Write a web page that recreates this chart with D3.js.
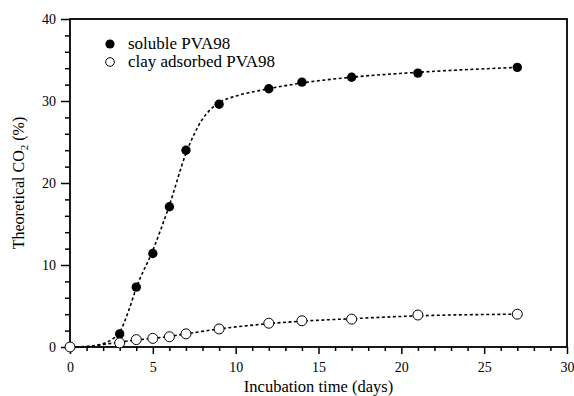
<!DOCTYPE html>
<html>
<head>
<meta charset="utf-8">
<script src="https://cdn.jsdelivr.net/npm/d3@7"></script>
<style>
  body { margin: 0; background: #fff; }
  svg { display: block; }
</style>
</head>
<body>
<svg id="chart" width="574" height="396"></svg>
<script>
// Measured points: incubation day and theoretical CO2 (%)
const days = [0, 3, 4, 5, 6, 7, 9, 12, 14, 17, 21, 27];
const soluble = [0, 1.6, 7.3, 11.4, 17.1, 24.0, 29.6, 31.5, 32.3, 32.9, 33.4, 34.1];
const clayAdsorbed = [0, 0.5, 0.9, 1.05, 1.25, 1.6, 2.2, 2.9, 3.2, 3.4, 3.9, 4.0];

// Fitted model curves
const fitDays = [0, 1, 2, 2.5, 3, 3.5, 4, 5, 6, 7, 8, 8.5, 9, 10, 11, 12, 14, 17, 21, 27];
const fitSoluble = [0, 0.05, 0.4, 0.9, 1.8, 4.2, 7.2, 11.8, 17.3, 23.6, 27.8, 29.0, 29.8, 30.6, 31.1, 31.5, 32.2, 32.9, 33.5, 34.1];
const fitClayDays = [0, 1, 2, 3, 4, 5, 6, 7, 9, 12, 14, 17, 21, 27];
const fitClay = [0, 0.07, 0.3, 0.6, 0.85, 1.05, 1.3, 1.6, 2.2, 2.85, 3.15, 3.45, 3.8, 4.0];

const xMajor = [0, 5, 10, 15, 20, 25, 30];
const yMajor = [0, 10, 20, 30, 40];
const seriesNames = ["soluble PVA98", "clay adsorbed PVA98"];

const SERIF = "'Liberation Serif'";

const svg = d3.select("#chart");
const m = { left: 70, right: 7, top: 19, bottom: 49 };
const W = 574, H = 396;

const x = d3.scaleLinear().domain([0, 30]).range([m.left, W - m.right]);
const y = d3.scaleLinear().domain([0, 40]).range([H - m.bottom, m.top]);

// minor ticks
const xMinor = d3.range(0, 31, 1).filter(v => v % 5 !== 0);
const yMinor = d3.range(0, 41, 2).filter(v => v % 10 !== 0);

const gx = svg.append("g").attr("transform", `translate(0,${y(0)})`);
gx.call(d3.axisBottom(x).tickValues(xMinor).tickSize(4).tickSizeOuter(0).tickFormat(""));
gx.call(g => g.select(".domain").remove());
const gxM = svg.append("g").attr("transform", `translate(0,${y(0)})`)
  .call(d3.axisBottom(x).tickValues(xMajor).tickSize(7).tickSizeOuter(0).tickPadding(8));
gxM.select(".domain").remove();

const gy = svg.append("g").attr("transform", `translate(${x(0)},0)`);
gy.call(d3.axisLeft(y).tickValues(yMinor).tickSize(5).tickSizeOuter(0).tickFormat(""));
gy.call(g => g.select(".domain").remove());
const gyM = svg.append("g").attr("transform", `translate(${x(0)},0)`)
  .call(d3.axisLeft(y).tickValues(yMajor).tickSize(9).tickSizeOuter(0).tickPadding(5));
gyM.select(".domain").remove();

svg.selectAll(".tick line").attr("stroke", "#000").attr("stroke-width", 1.5);
svg.selectAll(".tick text").style("font-family", SERIF).style("font-size", "14px").attr("fill", "#000");

// frame
svg.append("rect")
  .attr("x", x(0)).attr("y", y(40))
  .attr("width", x(30) - x(0)).attr("height", y(0) - y(40))
  .attr("fill", "none").attr("stroke", "#000").attr("stroke-width", 1.8);

// fitted curves
const line = d3.line().curve(d3.curveMonotoneX);
svg.append("path")
  .attr("d", line(fitDays.map((d, i) => [x(d), y(fitSoluble[i])])))
  .attr("fill", "none").attr("stroke", "#000").attr("stroke-width", 1.6)
  .attr("stroke-dasharray", "3,2.5");
svg.append("path")
  .attr("d", line(fitClayDays.map((d, i) => [x(d), y(fitClay[i])])))
  .attr("fill", "none").attr("stroke", "#000").attr("stroke-width", 1.6)
  .attr("stroke-dasharray", "3,2.5");

// markers
svg.append("g").selectAll("circle").data(days).join("circle")
  .attr("cx", d => x(d)).attr("cy", (d, i) => y(soluble[i]))
  .attr("r", 4.7).attr("fill", "#000");
svg.append("g").selectAll("circle").data(days).join("circle")
  .attr("cx", d => x(d)).attr("cy", (d, i) => y(clayAdsorbed[i]))
  .attr("r", 5).attr("fill", "#fff").attr("stroke", "#000").attr("stroke-width", 1);

// legend
const lg = svg.append("g");
lg.append("circle").attr("cx", 110).attr("cy", 44).attr("r", 4.6).attr("fill", "#000");
lg.append("circle").attr("cx", 110).attr("cy", 62).attr("r", 4.3).attr("fill", "#fff").attr("stroke", "#000");
lg.append("text").attr("x", 128).attr("y", 49).style("font-family", SERIF).style("font-size", "17px").text(seriesNames[0]);
lg.append("text").attr("x", 128).attr("y", 67).style("font-family", SERIF).style("font-size", "17px").text(seriesNames[1]);

// axis titles
svg.append("text").attr("x", (x(0) + x(30)) / 2).attr("y", 392)
  .attr("text-anchor", "middle").style("font-family", SERIF).style("font-size", "16.5px")
  .text("Incubation time (days)");

const yt = svg.append("text")
  .attr("transform", `translate(24,${(y(0) + y(40)) / 2}) rotate(-90)`)
  .attr("text-anchor", "middle").style("font-family", SERIF).style("font-size", "16px");
yt.append("tspan").text("Theoretical CO");
yt.append("tspan").attr("dy", 4).style("font-size", "11px").text("2");
yt.append("tspan").attr("dy", -4).text(" (%)");
</script>
</body>
</html>
